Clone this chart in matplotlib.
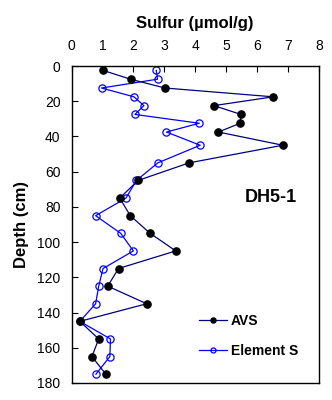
import matplotlib
matplotlib.use("Agg")
import matplotlib.pyplot as plt

depth = [2.5, 7.5, 12.5, 17.5, 22.5, 27.5, 32.5, 37.5, 45, 55, 65, 75, 85, 95,
         105, 115, 125, 135, 145, 155, 165, 175]
avs = [1.02, 1.91, 3.02, 6.52, 4.6, 5.48, 5.45, 4.75, 6.83, 3.8, 2.15, 1.56,
       1.9, 2.54, 3.37, 1.52, 1.17, 2.43, 0.27, 0.88, 0.66, 1.11]
elem_s = [2.74, 2.78, 0.97, 2.02, 2.34, 2.05, 4.13, 3.07, 4.16, 2.79, 2.1, 1.76,
          0.78, 1.59, 2.0, 1.02, 0.88, 0.78, 0.27, 1.26, 1.24, 0.79]
xticks = [0, 1, 2, 3, 4, 5, 6, 7, 8]
yticks = [0, 20, 40, 60, 80, 100, 120, 140, 160, 180]

plt.rcParams['font.family'] = ['Liberation Sans', 'DejaVu Sans']

fig = plt.figure(figsize=(3.32, 4.0), dpi=100)
ax = fig.add_axes([71.5/332, 1-383/400, (319-71.5)/332, (383-66)/400])

ax.plot(avs, depth, color='#000080', lw=0.9, marker='o', markersize=5.2,
        markerfacecolor='black', markeredgecolor='black', label='AVS', zorder=3)
ax.plot(elem_s, depth, color='#0000FF', lw=0.9, marker='o', markersize=5.2,
        markerfacecolor='none', markeredgecolor='#0000FF', markeredgewidth=0.9,
        label='Element S', zorder=2)

ax.set_xlim(0, 8)
ax.set_ylim(180, 0)
ax.set_xticks(xticks)
ax.set_yticks(yticks)
ax.xaxis.tick_top()
ax.xaxis.set_label_position('top')
ax.tick_params(direction='in', length=4, width=0.8, labelsize=10)
ax.tick_params(axis='x', pad=9)
ax.tick_params(axis='y', pad=8)
for s in ax.spines.values():
    s.set_linewidth(1.0)

ax.set_xlabel('Sulfur (\u00b5mol/g)', fontsize=12, fontweight='bold', labelpad=8)
ax.set_ylabel('Depth (cm)', fontsize=12, fontweight='bold', labelpad=6)

ax.text(0.805, 0.584, 'DH5-1', transform=ax.transAxes, fontsize=13,
        fontweight='bold', ha='center', va='center')

leg = ax.legend(loc='lower left', bbox_to_anchor=(0.465, 0.04), frameon=False,
                prop={'weight': 'bold', 'size': 10}, handlelength=2.0,
                markerscale=0.7, labelspacing=1.15, handletextpad=0.3)

fig.savefig('out.png', dpi=100)
